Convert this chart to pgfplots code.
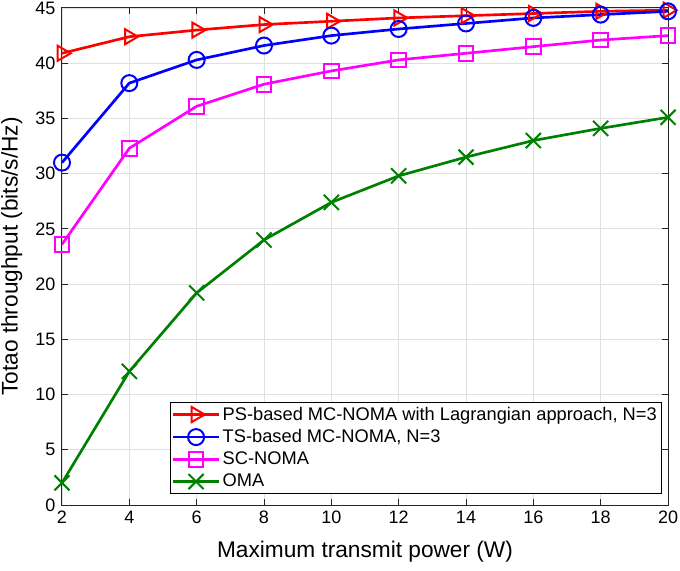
\documentclass[border=0pt]{standalone}
\usepackage{pgfplots}
\pgfplotsset{compat=1.18}
\usepackage{fontspec}
\setmainfont{Liberation Sans}
\usetikzlibrary{plotmarks}
\definecolor{mgreen}{RGB}{0,128,0}
\definecolor{mmag}{RGB}{255,0,255}
\definecolor{axgray}{RGB}{38,38,38}
\begin{document}
\begin{tikzpicture}
\begin{axis}[
  scale only axis,
  width=454.5pt, height=372.75pt,
  xmin=2, xmax=20, ymin=0, ymax=45,
  xtick={2,4,...,20}, ytick={0,5,...,45},
  grid=major,
  major grid style={draw=black!12, line width=0.6pt},
  axis line style={draw=axgray, line width=0.75pt},
  tick style={draw=axgray, line width=0.75pt},
  tick align=inside,
  major tick length=4.5pt,
  ticklabel style={font=\fontsize{13.5}{16}\selectfont},
  yticklabel style={xshift=-1.5pt},
  xticklabel style={yshift=-1pt},
  /pgf/number format/assume math mode=true,
  xlabel={Maximum transmit power (W)},
  ylabel={Totao throughput (bits/s/Hz)},
  label style={font=\fontsize{17}{20}\selectfont},
  xlabel style={at={(axis description cs:0.5,0)}, anchor=north, inner sep=0pt, yshift=-27pt},
  ylabel style={at={(axis description cs:0,0.5)}, anchor=south, inner sep=0pt, yshift=29.5pt},
  legend style={at={(0.990,0.022)}, anchor=south east, draw=black, line width=0.75pt,
    font=\fontsize{13.7}{15}\selectfont, row sep=1.5pt, inner sep=1.5pt},
  legend cell align=left,
  every axis plot/.append style={line width=2pt},
  legend image code/.code={
    \draw[mark repeat=2,mark phase=2] plot coordinates {(0pt,0pt) (17pt,0pt) (34pt,0pt)};},
]
\addplot[color=red, mark=triangle, mark options={rotate=-90, solid, line width=1.5pt, mark size=6.5pt}] coordinates {
(2,40.9) (4,42.4) (6,43.0) (8,43.5) (10,43.8) (12,44.1) (14,44.3) (16,44.5) (18,44.7) (20,44.8)};
\addlegendentry{PS-based MC-NOMA with Lagrangian approach, N=3}
\addplot[color=blue, mark=o, mark options={solid, line width=1.5pt, mark size=6pt}] coordinates {
(2,31.0) (4,38.2) (6,40.3) (8,41.6) (10,42.5) (12,43.1) (14,43.6) (16,44.1) (18,44.4) (20,44.7)};
\addlegendentry{TS-based MC-NOMA, N=3}
\addplot[color=mmag, mark=square, mark options={solid, line width=1.5pt, mark size=5.5pt}] coordinates {
(2,23.6) (4,32.3) (6,36.1) (8,38.1) (10,39.3) (12,40.3) (14,40.9) (16,41.5) (18,42.1) (20,42.5)};
\addlegendentry{SC-NOMA}
\addplot[color=mgreen, mark=x, mark options={solid, line width=1.5pt, mark size=8pt}] coordinates {
(2,2.0) (4,12.1) (6,19.2) (8,24.0) (10,27.4) (12,29.8) (14,31.5) (16,33.0) (18,34.1) (20,35.1)};
\addlegendentry{OMA}
\end{axis}
\pgfresetboundingbox
\path (current axis.south west) ++(-46.5pt,-48.75pt) coordinate (bbA);
\path (current axis.north east) ++(9pt,6pt) coordinate (bbB);
\path (bbA) rectangle (bbB);
\end{tikzpicture}
\end{document}
